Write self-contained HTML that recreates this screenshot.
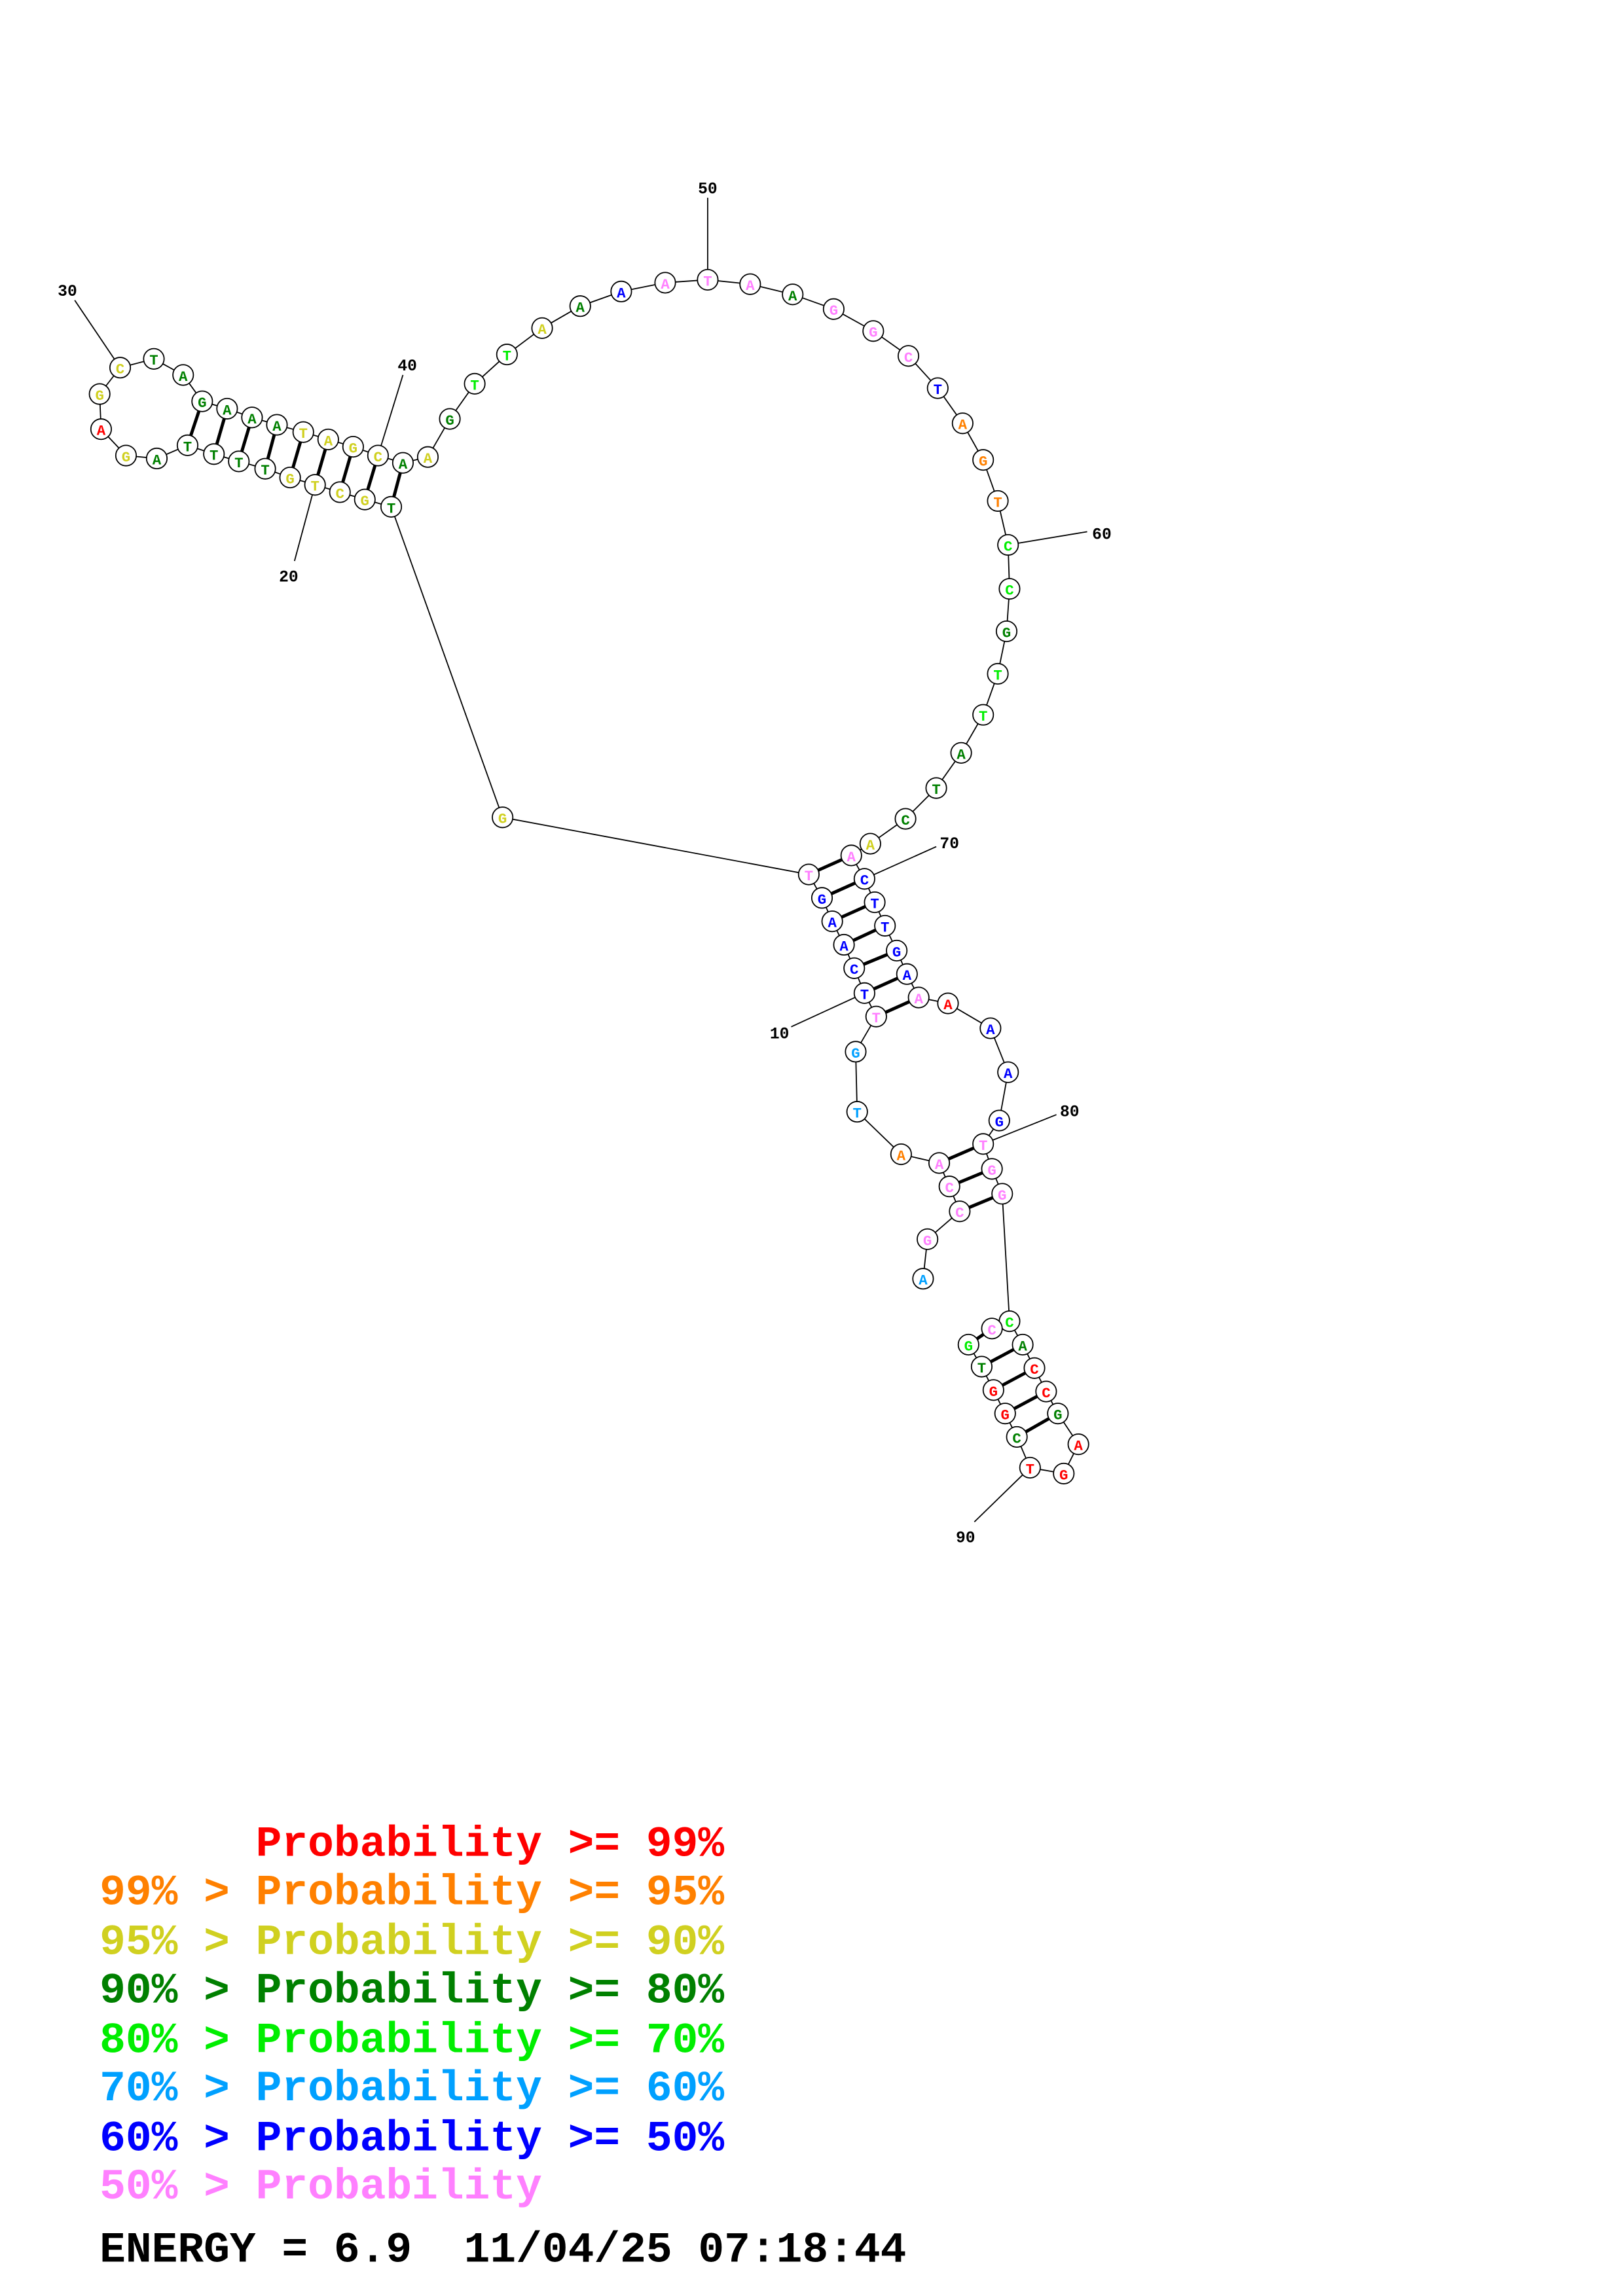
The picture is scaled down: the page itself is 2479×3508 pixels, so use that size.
<!DOCTYPE html>
<html><head><meta charset="utf-8"><style>html,body{margin:0;padding:0;background:#fff}svg{display:block}.lg text{white-space:pre}</style></head><body>
<svg xmlns="http://www.w3.org/2000/svg" width="2479" height="3508" viewBox="0 0 1107.7 1567.5" preserveAspectRatio="none">
<rect width="1107.7" height="1567.5" fill="#fff"/>
<g stroke="#000" stroke-width="0.8" fill="none">
<polyline points="630,873 633,846 655,827 648,810 641,794 615,788 585,759 584,718 598,694 590,678 583,661 576,645 568,629 561,613 552,597 343,558 267,346 249,341 232,336 215,331 198,326 181,320 163,315 146,310 128,304 107,313 86,311 69,293 68,269 82,251 105,245 125,256 138,274 155,279 172,285 189,290 207,295 224,300 241,305 258,311 275,316 292,312 307,286 324,262 346,242 370,224 396,209 424,199 454,193 483,191 512,194 541,201 569,211 596,226 620,243 640,265 657,289 671,314 681,342 688,372 689,402 687,431 681,460 671,488 656,514 639,538 618,559 594,576 581,584 590,600 597,616 604,632 612,649 619,665 627,681 647,685 676,702 688,732 682,765 671,781 677,798 684,815 689,902 698,918 706,934 714,950 722,965 736,986 726,1006 703,1002 694,981 686,965 678,949 670,933 661,918 677,907"/>
<line x1="590" y1="678" x2="540" y2="701"/>
<line x1="215" y1="331" x2="201" y2="383"/>
<line x1="82" y1="251" x2="51" y2="205"/>
<line x1="258" y1="311" x2="275" y2="256"/>
<line x1="483" y1="191" x2="483" y2="135"/>
<line x1="688" y1="372" x2="742" y2="363"/>
<line x1="590" y1="600" x2="639" y2="578"/>
<line x1="671" y1="781" x2="721" y2="761"/>
<line x1="703" y1="1002" x2="665" y2="1039"/>
</g>
<g stroke="#000" stroke-width="2.2">
<line x1="552" y1="597" x2="581" y2="584"/><line x1="561" y1="613" x2="590" y2="600"/><line x1="568" y1="629" x2="597" y2="616"/><line x1="576" y1="645" x2="604" y2="632"/><line x1="583" y1="661" x2="612" y2="649"/><line x1="590" y1="678" x2="619" y2="665"/><line x1="598" y1="694" x2="627" y2="681"/>
<line x1="267" y1="346" x2="275" y2="316"/><line x1="249" y1="341" x2="258" y2="311"/><line x1="232" y1="336" x2="241" y2="305"/><line x1="215" y1="331" x2="224" y2="300"/><line x1="198" y1="326" x2="207" y2="295"/><line x1="181" y1="320" x2="189" y2="290"/><line x1="163" y1="315" x2="172" y2="285"/><line x1="146" y1="310" x2="155" y2="279"/><line x1="128" y1="304" x2="138" y2="274"/>
<line x1="648" y1="810" x2="677" y2="798"/><line x1="655" y1="827" x2="684" y2="815"/><line x1="641" y1="794" x2="671" y2="781"/>
<line x1="698" y1="918" x2="670" y2="933"/><line x1="706" y1="934" x2="678" y2="949"/><line x1="714" y1="950" x2="686" y2="965"/><line x1="722" y1="965" x2="694" y2="981"/><line x1="661" y1="918" x2="677" y2="907"/>
</g>
<g stroke="#000" stroke-width="0.8" fill="#fff">
<circle cx="630" cy="873" r="7"/><circle cx="633" cy="846" r="7"/><circle cx="655" cy="827" r="7"/><circle cx="648" cy="810" r="7"/><circle cx="641" cy="794" r="7"/><circle cx="615" cy="788" r="7"/><circle cx="585" cy="759" r="7"/><circle cx="584" cy="718" r="7"/><circle cx="598" cy="694" r="7"/><circle cx="590" cy="678" r="7"/><circle cx="583" cy="661" r="7"/><circle cx="576" cy="645" r="7"/><circle cx="568" cy="629" r="7"/><circle cx="561" cy="613" r="7"/><circle cx="552" cy="597" r="7"/><circle cx="343" cy="558" r="7"/><circle cx="267" cy="346" r="7"/><circle cx="249" cy="341" r="7"/><circle cx="232" cy="336" r="7"/><circle cx="215" cy="331" r="7"/><circle cx="198" cy="326" r="7"/><circle cx="181" cy="320" r="7"/><circle cx="163" cy="315" r="7"/><circle cx="146" cy="310" r="7"/><circle cx="128" cy="304" r="7"/><circle cx="107" cy="313" r="7"/><circle cx="86" cy="311" r="7"/><circle cx="69" cy="293" r="7"/><circle cx="68" cy="269" r="7"/><circle cx="82" cy="251" r="7"/><circle cx="105" cy="245" r="7"/><circle cx="125" cy="256" r="7"/><circle cx="138" cy="274" r="7"/><circle cx="155" cy="279" r="7"/><circle cx="172" cy="285" r="7"/><circle cx="189" cy="290" r="7"/><circle cx="207" cy="295" r="7"/><circle cx="224" cy="300" r="7"/><circle cx="241" cy="305" r="7"/><circle cx="258" cy="311" r="7"/><circle cx="275" cy="316" r="7"/><circle cx="292" cy="312" r="7"/><circle cx="307" cy="286" r="7"/><circle cx="324" cy="262" r="7"/><circle cx="346" cy="242" r="7"/><circle cx="370" cy="224" r="7"/><circle cx="396" cy="209" r="7"/><circle cx="424" cy="199" r="7"/><circle cx="454" cy="193" r="7"/><circle cx="483" cy="191" r="7"/><circle cx="512" cy="194" r="7"/><circle cx="541" cy="201" r="7"/><circle cx="569" cy="211" r="7"/><circle cx="596" cy="226" r="7"/><circle cx="620" cy="243" r="7"/><circle cx="640" cy="265" r="7"/><circle cx="657" cy="289" r="7"/><circle cx="671" cy="314" r="7"/><circle cx="681" cy="342" r="7"/><circle cx="688" cy="372" r="7"/><circle cx="689" cy="402" r="7"/><circle cx="687" cy="431" r="7"/><circle cx="681" cy="460" r="7"/><circle cx="671" cy="488" r="7"/><circle cx="656" cy="514" r="7"/><circle cx="639" cy="538" r="7"/><circle cx="618" cy="559" r="7"/><circle cx="594" cy="576" r="7"/><circle cx="581" cy="584" r="7"/><circle cx="590" cy="600" r="7"/><circle cx="597" cy="616" r="7"/><circle cx="604" cy="632" r="7"/><circle cx="612" cy="649" r="7"/><circle cx="619" cy="665" r="7"/><circle cx="627" cy="681" r="7"/><circle cx="647" cy="685" r="7"/><circle cx="676" cy="702" r="7"/><circle cx="688" cy="732" r="7"/><circle cx="682" cy="765" r="7"/><circle cx="671" cy="781" r="7"/><circle cx="677" cy="798" r="7"/><circle cx="684" cy="815" r="7"/><circle cx="689" cy="902" r="7"/><circle cx="698" cy="918" r="7"/><circle cx="706" cy="934" r="7"/><circle cx="714" cy="950" r="7"/><circle cx="722" cy="965" r="7"/><circle cx="736" cy="986" r="7"/><circle cx="726" cy="1006" r="7"/><circle cx="703" cy="1002" r="7"/><circle cx="694" cy="981" r="7"/><circle cx="686" cy="965" r="7"/><circle cx="678" cy="949" r="7"/><circle cx="670" cy="933" r="7"/><circle cx="661" cy="918" r="7"/><circle cx="677" cy="907" r="7"/>
</g>
<g font-family="Liberation Mono, monospace" font-weight="bold" font-size="10" text-anchor="middle">
<text x="630" y="877" fill="#00a0ff">A</text><text x="633" y="850" fill="#ff80ff">G</text><text x="655" y="831" fill="#ff80ff">C</text><text x="648" y="814" fill="#ff80ff">C</text><text x="641" y="798" fill="#ff80ff">A</text><text x="615" y="792" fill="#ff8000">A</text><text x="585" y="763" fill="#00a0ff">T</text><text x="584" y="722" fill="#00a0ff">G</text><text x="598" y="698" fill="#ff80ff">T</text><text x="590" y="682" fill="#0000ff">T</text><text x="583" y="665" fill="#0000ff">C</text><text x="576" y="649" fill="#0000ff">A</text><text x="568" y="633" fill="#0000ff">A</text><text x="561" y="617" fill="#0000ff">G</text><text x="552" y="601" fill="#ff80ff">T</text><text x="343" y="562" fill="#d0d020">G</text><text x="267" y="350" fill="#008000">T</text><text x="249" y="345" fill="#d0d020">G</text><text x="232" y="340" fill="#d0d020">C</text><text x="215" y="335" fill="#d0d020">T</text><text x="198" y="330" fill="#d0d020">G</text><text x="181" y="324" fill="#008000">T</text><text x="163" y="319" fill="#008000">T</text><text x="146" y="314" fill="#008000">T</text><text x="128" y="308" fill="#008000">T</text><text x="107" y="317" fill="#008000">A</text><text x="86" y="315" fill="#d0d020">G</text><text x="69" y="297" fill="#ff0000">A</text><text x="68" y="273" fill="#d0d020">G</text><text x="82" y="255" fill="#d0d020">C</text><text x="105" y="249" fill="#008000">T</text><text x="125" y="260" fill="#008000">A</text><text x="138" y="278" fill="#008000">G</text><text x="155" y="283" fill="#008000">A</text><text x="172" y="289" fill="#008000">A</text><text x="189" y="294" fill="#008000">A</text><text x="207" y="299" fill="#d0d020">T</text><text x="224" y="304" fill="#d0d020">A</text><text x="241" y="309" fill="#d0d020">G</text><text x="258" y="315" fill="#d0d020">C</text><text x="275" y="320" fill="#008000">A</text><text x="292" y="316" fill="#d0d020">A</text><text x="307" y="290" fill="#008000">G</text><text x="324" y="266" fill="#00ee00">T</text><text x="346" y="246" fill="#00ee00">T</text><text x="370" y="228" fill="#d0d020">A</text><text x="396" y="213" fill="#008000">A</text><text x="424" y="203" fill="#0000ff">A</text><text x="454" y="197" fill="#ff80ff">A</text><text x="483" y="195" fill="#ff80ff">T</text><text x="512" y="198" fill="#ff80ff">A</text><text x="541" y="205" fill="#008000">A</text><text x="569" y="215" fill="#ff80ff">G</text><text x="596" y="230" fill="#ff80ff">G</text><text x="620" y="247" fill="#ff80ff">C</text><text x="640" y="269" fill="#0000ff">T</text><text x="657" y="293" fill="#ff8000">A</text><text x="671" y="318" fill="#ff8000">G</text><text x="681" y="346" fill="#ff8000">T</text><text x="688" y="376" fill="#00ee00">C</text><text x="689" y="406" fill="#00ee00">C</text><text x="687" y="435" fill="#008000">G</text><text x="681" y="464" fill="#00ee00">T</text><text x="671" y="492" fill="#00ee00">T</text><text x="656" y="518" fill="#008000">A</text><text x="639" y="542" fill="#008000">T</text><text x="618" y="563" fill="#008000">C</text><text x="594" y="580" fill="#d0d020">A</text><text x="581" y="588" fill="#ff80ff">A</text><text x="590" y="604" fill="#0000ff">C</text><text x="597" y="620" fill="#0000ff">T</text><text x="604" y="636" fill="#0000ff">T</text><text x="612" y="653" fill="#0000ff">G</text><text x="619" y="669" fill="#0000ff">A</text><text x="627" y="685" fill="#ff80ff">A</text><text x="647" y="689" fill="#ff0000">A</text><text x="676" y="706" fill="#0000ff">A</text><text x="688" y="736" fill="#0000ff">A</text><text x="682" y="769" fill="#0000ff">G</text><text x="671" y="785" fill="#ff80ff">T</text><text x="677" y="802" fill="#ff80ff">G</text><text x="684" y="819" fill="#ff80ff">G</text><text x="689" y="906" fill="#00ee00">C</text><text x="698" y="922" fill="#008000">A</text><text x="706" y="938" fill="#ff0000">C</text><text x="714" y="954" fill="#ff0000">C</text><text x="722" y="969" fill="#008000">G</text><text x="736" y="990" fill="#ff0000">A</text><text x="726" y="1010" fill="#ff0000">G</text><text x="703" y="1006" fill="#ff0000">T</text><text x="694" y="985" fill="#008000">C</text><text x="686" y="969" fill="#ff0000">G</text><text x="678" y="953" fill="#ff0000">G</text><text x="670" y="937" fill="#008000">T</text><text x="661" y="922" fill="#00ee00">G</text><text x="677" y="911" fill="#ff80ff">C</text>
</g>
<g font-family="Liberation Mono, monospace" font-weight="bold" font-size="11" fill="#000" text-anchor="middle">
<text x="532" y="709">10</text><text x="197" y="397">20</text><text x="46" y="202">30</text><text x="278" y="253">40</text><text x="483" y="132">50</text><text x="752" y="368">60</text><text x="648" y="579">70</text><text x="730" y="762">80</text><text x="659" y="1053">90</text>
</g>
<g class="lg" font-family="Liberation Mono, monospace" font-weight="bold" font-size="29.6">
<text x="68" y="1267" fill="#ff0000">      Probability &gt;= 99%</text>
<text x="68" y="1300" fill="#ff8000">99% &gt; Probability &gt;= 95%</text>
<text x="68" y="1334" fill="#d0d020">95% &gt; Probability &gt;= 90%</text>
<text x="68" y="1367" fill="#008000">90% &gt; Probability &gt;= 80%</text>
<text x="68" y="1401" fill="#00ee00">80% &gt; Probability &gt;= 70%</text>
<text x="68" y="1434" fill="#00a0ff">70% &gt; Probability &gt;= 60%</text>
<text x="68" y="1468" fill="#0000ff">60% &gt; Probability &gt;= 50%</text>
<text x="68" y="1501" fill="#ff80ff">50% &gt; Probability</text>
<text x="68" y="1544" fill="#000">ENERGY = 6.9  11/04/25 07:18:44</text>
</g>
</svg>
</body></html>
